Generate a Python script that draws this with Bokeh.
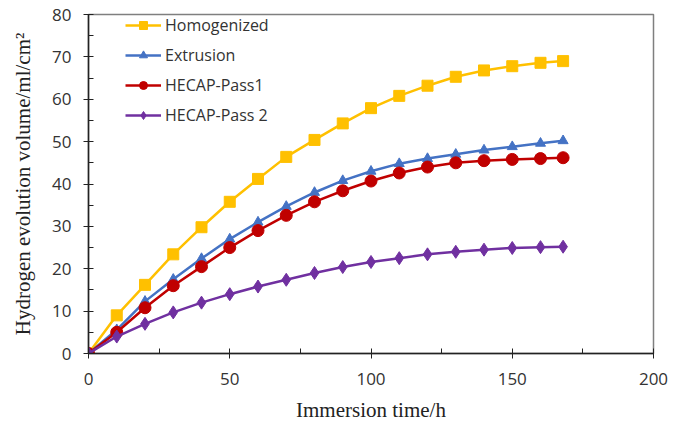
from bokeh.plotting import figure
from bokeh.models import Legend, LegendItem, FixedTicker, Range1d
from bokeh.embed import file_html
from bokeh.resources import INLINE

time_h = [0, 10, 20, 30, 40, 50, 60, 70, 80, 90, 100, 110, 120, 130, 140, 150, 160, 168]
homogenized = [0, 9.0, 16.2, 23.4, 29.8, 35.8, 41.2, 46.4, 50.4, 54.3, 57.9, 60.8, 63.2, 65.3, 66.8, 67.8, 68.6, 69.0]
extrusion = [0, 5.6, 12.3, 17.5, 22.4, 27.0, 31.0, 34.7, 38.0, 40.8, 43.0, 44.8, 46.0, 47.0, 48.0, 48.8, 49.6, 50.2]
hecap1 = [0, 5.0, 10.8, 16.0, 20.5, 25.0, 29.0, 32.6, 35.8, 38.4, 40.7, 42.6, 44.0, 45.0, 45.5, 45.8, 46.0, 46.2]
hecap2 = [0, 4.0, 7.0, 9.7, 12.0, 14.0, 15.8, 17.4, 19.0, 20.4, 21.6, 22.5, 23.4, 24.0, 24.5, 24.9, 25.1, 25.2]
series_names = ["Homogenized", "Extrusion", "HECAP-Pass1", "HECAP-Pass 2"]
x_ticks = [0, 50, 100, 150, 200]
y_ticks = [0, 10, 20, 30, 40, 50, 60, 70, 80]

p = figure(width=686, height=429, output_backend="svg", toolbar_location=None,
           x_range=Range1d(0, 200), y_range=Range1d(0, 80),
           min_border_left=88, min_border_right=33, min_border_top=14, min_border_bottom=76)
p.background_fill_color = "white"
p.border_fill_color = "white"
p.outline_line_color = "#7f7f7f"
p.outline_line_width = 1.5
p.grid.visible = False

colors = ["#FFC000", "#4472C4", "#C00000", "#7030A0"]
data = [homogenized, extrusion, hecap1, hecap2]
items = []
for name, ys, c, m in zip(series_names, data, colors, ["square", "triangle", "circle", "diamond"]):
    ln = p.line(time_h, ys, line_color=c, line_width=2.5)
    size = {"square": 11, "triangle": 10, "circle": 12, "diamond": 13}[m]
    sc = p.scatter(time_h, ys, marker=m, size=size, fill_color=c, line_color=c)
    items.append(LegendItem(label=name, renderers=[ln, sc]))

legend = Legend(items=items, location=(27, 217), orientation="vertical")
legend.background_fill_alpha = 0
legend.border_line_alpha = 0
legend.padding = 10
legend.margin = 0
legend.label_text_font = "Open Sans"
legend.label_text_font_size = "16px"
legend.label_text_color = "#333333"
legend.glyph_width = 36
legend.glyph_height = 20
legend.label_height = 20
legend.spacing = 8
legend.label_standoff = 4
p.add_layout(legend, "center")

for ax in (p.xaxis[0], p.yaxis[0]):
    ax.axis_line_color = "#222222"
    ax.axis_line_width = 1.5
    ax.major_tick_line_color = "#222222"
    ax.minor_tick_line_color = "#222222"
    ax.major_tick_in = 5
    ax.major_tick_out = 5
    ax.minor_tick_in = 5
    ax.minor_tick_out = 0
    ax.major_label_text_font = "Open Sans"
    ax.major_label_text_font_size = "17px"
    ax.major_label_text_color = "#333333"
    ax.axis_label_text_font = "Liberation Serif"
    ax.axis_label_text_font_size = "21px"
    ax.axis_label_text_font_style = "normal"
    ax.axis_label_text_color = "#222222"

p.xaxis[0].ticker = FixedTicker(ticks=x_ticks, minor_ticks=[25, 75, 125, 175])
p.yaxis[0].ticker = FixedTicker(ticks=y_ticks, minor_ticks=[5, 15, 25, 35, 45, 55, 65, 75])
p.xaxis[0].axis_label = "Immersion time/h"
p.yaxis[0].axis_label = "Hydrogen evolution volume/ml/cm²"
p.xaxis[0].major_label_standoff = 14
p.yaxis[0].major_label_standoff = 12
p.xaxis[0].axis_label_standoff = 10
p.yaxis[0].axis_label_standoff = 14

open("out.html", "w").write(file_html(p, INLINE))
